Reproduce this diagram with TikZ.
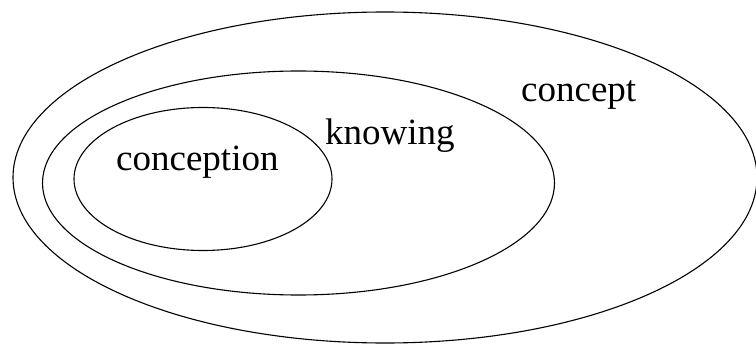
\documentclass[tikz,border=0pt]{standalone}
\usepackage{fontspec}
\setmainfont{Liberation Serif}
\usetikzlibrary{shapes.geometric}
\begin{document}
\begin{tikzpicture}[x=1pt,y=-1pt,
  ring/.style={draw, ellipse, line width=1.1pt, inner sep=0pt, outer sep=0pt},
  lbl/.style={anchor=base west, inner sep=0pt, font=\fontsize{37}{40}\selectfont}]
\useasboundingbox (0,0) rectangle (756,345);
\node[ring, minimum width=744pt, minimum height=331pt] (outer) at (385,177.5) {};
\node[ring, minimum width=512pt, minimum height=224pt] (middle) at (298.5,183) {};
\node[ring, minimum width=258pt, minimum height=143pt] (inner) at (203,179) {};
\node[lbl] (concept) at (521,101.5) {concept};
\node[lbl] (knowing) at (325,145) {knowing};
\node[lbl] (conception) at (116,170) {conception};
\end{tikzpicture}
\end{document}
